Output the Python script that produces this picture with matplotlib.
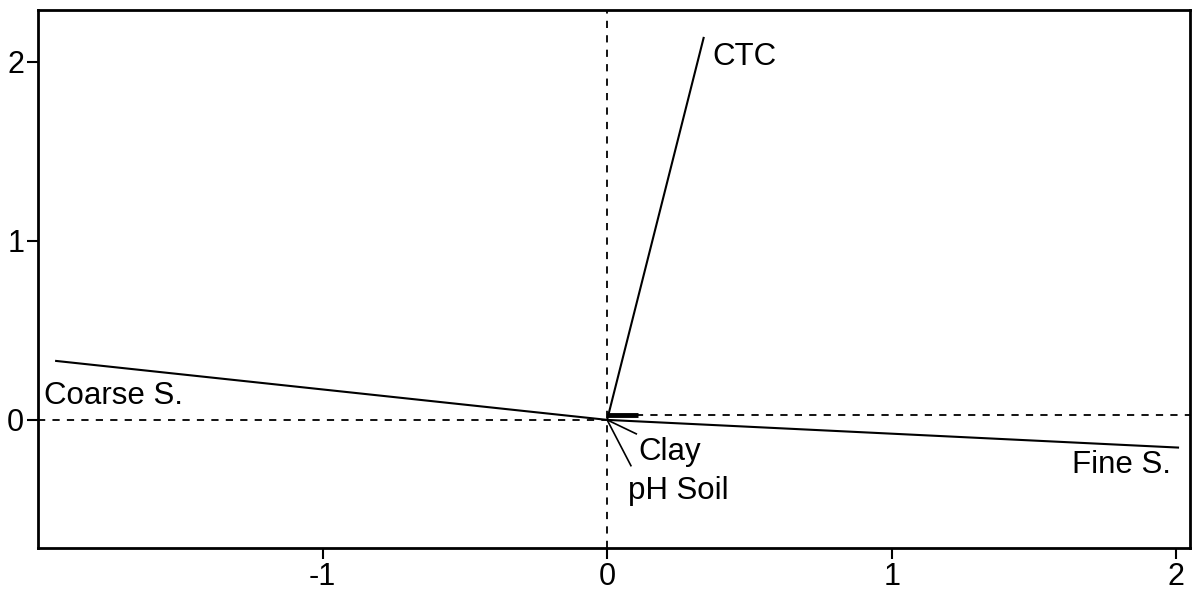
import matplotlib
matplotlib.use("Agg")
import matplotlib.pyplot as plt

plt.rcParams['font.family'] = ['Liberation Sans', 'DejaVu Sans']

# Biplot vectors (end coordinates)
variables = ["CTC", "Coarse S.", "Fine S.", "Clay", "pH Soil"]
vec_x = [0.34, -1.94, 2.01, 0.105, 0.085]
vec_y = [2.14, 0.33, -0.155, -0.08, -0.26]
vec_lw = [1.5, 1.5, 1.5, 1.2, 1.2]

# short unlabeled thick vector near origin
short_x = [0.0, 0.11]
short_y = [0.025, 0.025]

# Label positions (data coords) and alignment
label_x = [0.37, -1.98, 1.98, 0.11, 0.075]
label_y = [2.03, 0.135, -0.25, -0.18, -0.40]
label_ha = ["left", "left", "right", "left", "left"]

xticks = [-1, 0, 1, 2]
yticks = [0, 1, 2]

fig = plt.figure(figsize=(11.92, 5.92), dpi=100)
ax = fig.add_axes([0.0319, 0.0743, 0.9668, 0.9087])
ax.set_xlim(-2.0, 2.05)
ax.set_ylim(-0.716, 2.29)

# reference dashed axes
ax.plot([0, 0], [-0.716, 2.29], ls=(0, (4, 4)), color='black', lw=1.3)
ax.plot([-2.0, 0], [0, 0], ls=(0, (4, 4)), color='black', lw=1.3)
ax.plot([0, 2.05], [0.03, 0.03], ls=(0, (4, 4)), color='black', lw=1.3)

for x, y, lw in zip(vec_x, vec_y, vec_lw):
    ax.plot([0, x], [0, y], color='black', lw=lw, solid_capstyle='butt')

ax.plot(short_x, short_y, color='black', lw=3.5, solid_capstyle='butt')

for name, x, y, ha in zip(variables, label_x, label_y, label_ha):
    ax.text(x, y, name, ha=ha, va='center', fontsize=22.5, color='black')

ax.set_xticks(xticks)
ax.set_yticks(yticks)
ax.set_xticklabels([str(t) for t in xticks])
ax.set_yticklabels([str(t) for t in yticks])
ax.tick_params(axis='both', direction='out', length=8, width=1.5,
               labelsize=22, pad=2)
for s in ax.spines.values():
    s.set_linewidth(2)

fig.savefig("out.png", dpi=100)
